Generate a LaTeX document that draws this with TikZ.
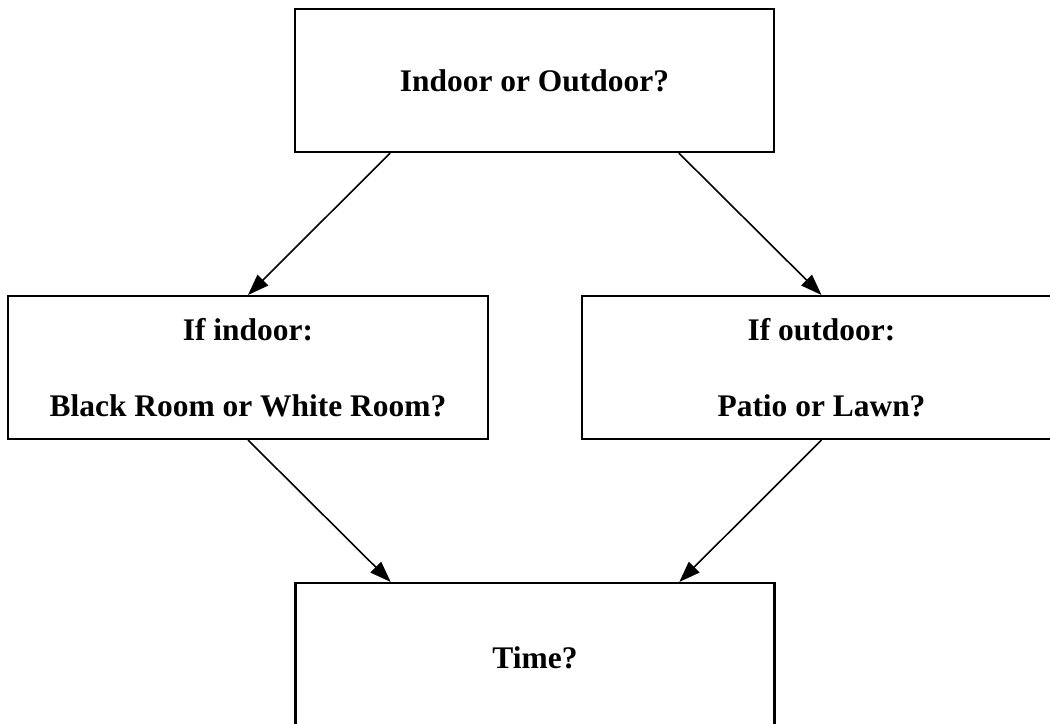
\documentclass[tikz,border=0pt]{standalone}
\usepackage{fontspec}
\setmainfont{Liberation Serif}
\usetikzlibrary{arrows.meta,calc}

\begin{document}
\begin{tikzpicture}[x=0.02cm, y=-0.02cm,
	box/.style={draw, line width=1.2pt, minimum width=9.58cm, minimum height=2.86cm, align=center, inner sep=0pt, font=\bfseries\fontsize{17.9}{21.5}\selectfont},
	arr/.style={-{Triangle[length=12pt, width=8.5pt]}, line width=0.9pt}]
	\useasboundingbox (0,0) rectangle (1050,723);
	\clip (0,0) rectangle (1050,723);
	\node[box] (place) at (534.5,80.5) {Indoor or Outdoor?};
	\node[box, minimum width=9.6cm] (indoor) at (248,367.5) {If indoor:\\[21.5pt]Black Room or White Room?};
	\node[box] (outdoor) at (821.5,367.5) {If outdoor:\\[21.5pt]Patio or Lawn?};
	\node[box, minimum height=3cm] (time) at (535,658) {Time?};
	\draw[arr] ($(place.south west)!0.2!(place.south east)$) -- (indoor.north);
	\draw[arr] ($(place.south west)!0.8!(place.south east)$) -- (outdoor.north);
	\draw[arr] (indoor.south) -- ($(time.north west)!0.2!(time.north east)$);
	\draw[arr] (outdoor.south) -- ($(time.north west)!0.8!(time.north east)$);
\end{tikzpicture}
\end{document}
